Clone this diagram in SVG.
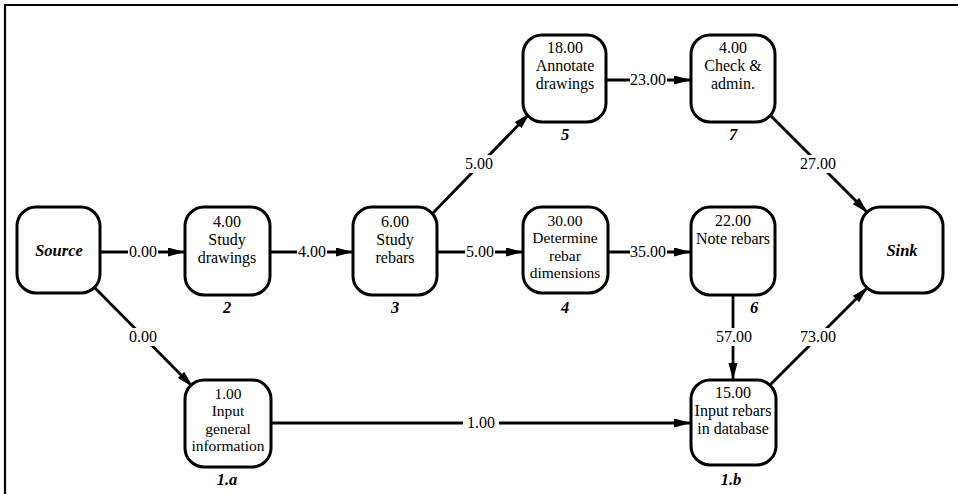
<svg xmlns="http://www.w3.org/2000/svg" width="958" height="494" viewBox="0 0 958 494">
<defs>
<style>
.node{fill:#fff;stroke:#000;stroke-width:3}
.t{font-family:"Liberation Serif","Times New Roman",serif;font-size:16px;fill:#000;text-anchor:middle}
.s{font-size:15.5px}
.bi{font-family:"Liberation Serif","Times New Roman",serif;font-size:16.5px;font-weight:bold;font-style:italic;fill:#000;text-anchor:middle}
.e{stroke:#000;stroke-width:2.8;fill:none;marker-end:url(#ah)}
.bg{fill:#fff}
</style>
<marker id="ah" markerUnits="userSpaceOnUse" markerWidth="18" markerHeight="10" refX="17" refY="4.5" orient="auto">
<path d="M0,0 L17,4.5 L0,9 z" fill="#000"/>
</marker>
</defs>
<rect width="958" height="494" fill="#fff"/>
<path d="M5,494 V5 H958" stroke="#000" stroke-width="2.2" fill="none"/>

<g id="connectors">
<line class="e" x1="100" y1="252" x2="185" y2="252"/>
<line class="e" x1="270" y1="252" x2="353" y2="252"/>
<line class="e" x1="437" y1="252" x2="523" y2="252"/>
<line class="e" x1="608" y1="252" x2="691" y2="252"/>
<line class="e" x1="606" y1="80" x2="691" y2="80"/>
<line class="e" x1="433" y1="213" x2="530" y2="113"/>
<line class="e" x1="768" y1="113" x2="868" y2="213"/>
<line class="e" x1="95" y1="288" x2="193" y2="387"/>
<line class="e" x1="271" y1="423" x2="691" y2="423"/>
<line class="e" x1="733" y1="295" x2="733" y2="380"/>
<line class="e" x1="770" y1="385" x2="868" y2="287"/>
<rect class="bg" x="128" y="243" width="30" height="16"/>
<text class="t" x="143" y="257">0.00</text>
<rect class="bg" x="297" y="243" width="30" height="16"/>
<text class="t" x="312" y="257">4.00</text>
<rect class="bg" x="465" y="243" width="30" height="16"/>
<text class="t" x="480" y="257">5.00</text>
<rect class="bg" x="630" y="243" width="37" height="16"/>
<text class="t" x="648" y="257">35.00</text>
<rect class="bg" x="630" y="71" width="37" height="16"/>
<text class="t" x="648" y="85">23.00</text>
<rect class="bg" x="464" y="155" width="30" height="18"/>
<text class="t" x="479" y="169">5.00</text>
<rect class="bg" x="799" y="155" width="38" height="18"/>
<text class="t" x="818" y="169">27.00</text>
<rect class="bg" x="127" y="328" width="32" height="18"/>
<text class="t" x="143" y="342">0.00</text>
<rect class="bg" x="463" y="414" width="36" height="16"/>
<text class="t" x="481" y="428">1.00</text>
<rect class="bg" x="714" y="328" width="40" height="18"/>
<text class="t" x="734" y="342">57.00</text>
<rect class="bg" x="799" y="328" width="38" height="18"/>
<text class="t" x="818" y="342">73.00</text>
</g>

<g id="source">
<rect class="node" x="17" y="207" width="83" height="86" rx="19"/>
<text class="bi" x="59" y="256">Source</text>
</g>
<g id="n2">
<rect class="node" x="185" y="207" width="85" height="88" rx="19"/>
<text class="t" x="227" y="227">4.00</text>
<text class="t" x="227" y="245">Study</text>
<text class="t" x="227" y="263">drawings</text>
<text class="bi" x="227" y="313">2</text>
</g>
<g id="n3">
<rect class="node" x="353" y="207" width="84" height="88" rx="19"/>
<text class="t" x="395" y="227">6.00</text>
<text class="t" x="395" y="245">Study</text>
<text class="t" x="395" y="263">rebars</text>
<text class="bi" x="395" y="313">3</text>
</g>
<g id="n1a">
<rect class="node" x="185" y="380" width="86" height="87" rx="19"/>
<text class="t s" x="228" y="399">1.00</text>
<text class="t s" x="228" y="416.3">Input</text>
<text class="t s" x="228" y="433.6">general</text>
<text class="t s" x="228" y="451">information</text>
<text class="bi" x="227" y="485">1.a</text>
</g>
<g id="n5">
<rect class="node" x="523" y="35" width="83" height="87" rx="19"/>
<text class="t" x="565" y="53">18.00</text>
<text class="t" x="565" y="71">Annotate</text>
<text class="t" x="565" y="89">drawings</text>
<text class="bi" x="565" y="140">5</text>
</g>
<g id="n7">
<rect class="node" x="691" y="35" width="84" height="87" rx="19"/>
<text class="t" x="733" y="53">4.00</text>
<text class="t" x="733" y="71">Check &amp;</text>
<text class="t" x="733" y="89">admin.</text>
<text class="bi" x="733" y="140">7</text>
</g>
<g id="n4">
<rect class="node" x="523" y="207" width="85" height="86" rx="19"/>
<text class="t s" x="565" y="226">30.00</text>
<text class="t s" x="565" y="243.3">Determine</text>
<text class="t s" x="565" y="260.6">rebar</text>
<text class="t s" x="565" y="278">dimensions</text>
<text class="bi" x="565" y="313">4</text>
</g>
<g id="n6">
<rect class="node" x="691" y="207" width="84" height="88" rx="19"/>
<text class="t" x="733" y="226">22.00</text>
<text class="t" x="733" y="244">Note rebars</text>
<text class="bi" x="754" y="313">6</text>
</g>
<g id="n1b">
<rect class="node" x="691" y="380" width="85" height="85" rx="19"/>
<text class="t" x="733" y="398">15.00</text>
<text class="t" x="733" y="416">Input rebars</text>
<text class="t" x="733" y="434">in database</text>
<text class="bi" x="731" y="485">1.b</text>
</g>
<g id="sink">
<rect class="node" x="861" y="207" width="82" height="86" rx="19"/>
<text class="bi" x="902" y="256">Sink</text>
</g>
</svg>
